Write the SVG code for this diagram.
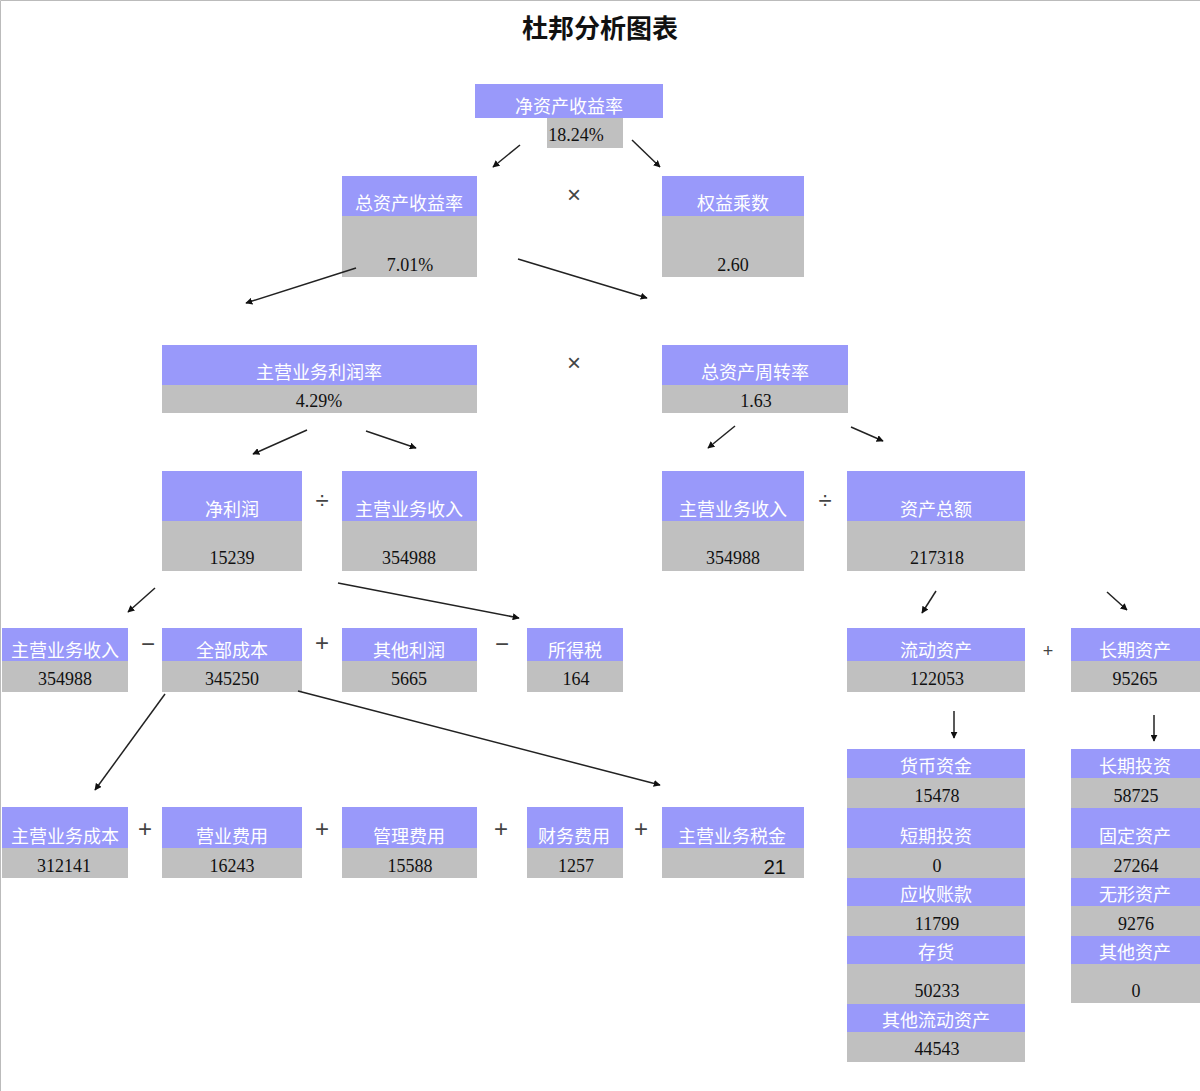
<svg xmlns="http://www.w3.org/2000/svg" width="1200" height="1091" viewBox="0 0 1200 1091">
<defs>
<style>
.p{fill:#9999fa}.g{fill:#c0c0c0}
.l{font-family:"Noto Sans CJK SC",sans-serif;font-size:18px;fill:#fff;text-anchor:middle}
.v{font-family:"Liberation Serif",serif;font-size:18px;fill:#111;text-anchor:middle}
.o{font-family:"Liberation Sans",sans-serif;font-size:24px;fill:#444;text-anchor:middle}
.c line{stroke:#222;stroke-width:1.5;marker-end:url(#a)}
</style>
<marker id="a" viewBox="0 0 10 10" refX="9" refY="5" markerWidth="7" markerHeight="7" orient="auto" markerUnits="userSpaceOnUse"><path d="M0,0L10,5L0,10z" fill="#111"/></marker>
</defs>
<rect width="1200" height="1091" fill="#fff"/>
<path d="M0.5,1091V0.5H1200" fill="none" stroke="#bbb"/>
<text x="600" y="38" font-family="Noto Sans CJK SC,sans-serif" font-size="26" font-weight="bold" text-anchor="middle" fill="#111">杜邦分析图表</text>

<g id="roe"><rect class="p" x="475" y="84" width="188" height="34"/><rect class="g" x="547" y="118" width="76" height="30"/><text class="l" x="569" y="113">净资产收益率</text><text class="v" x="576" y="141">18.24%</text></g>
<g id="roa"><rect class="p" x="342" y="176" width="135" height="40"/><rect class="g" x="342" y="216" width="135" height="61"/><text class="l" x="409" y="210">总资产收益率</text><text class="v" x="410" y="271">7.01%</text></g>
<g id="em"><rect class="p" x="662" y="176" width="142" height="40"/><rect class="g" x="662" y="216" width="142" height="61"/><text class="l" x="733" y="210">权益乘数</text><text class="v" x="733" y="271">2.60</text></g>
<g id="pm"><rect class="p" x="162" y="345" width="315" height="40"/><rect class="g" x="162" y="385" width="315" height="28"/><text class="l" x="319" y="379">主营业务利润率</text><text class="v" x="319" y="407">4.29%</text></g>
<g id="at"><rect class="p" x="662" y="345" width="186" height="40"/><rect class="g" x="662" y="385" width="186" height="28"/><text class="l" x="755" y="379">总资产周转率</text><text class="v" x="756" y="407">1.63</text></g>

<g id="np"><rect class="p" x="162" y="471" width="140" height="50"/><rect class="g" x="162" y="521" width="140" height="50"/><text class="l" x="232" y="516">净利润</text><text class="v" x="232" y="564">15239</text></g>
<g id="rev1"><rect class="p" x="342" y="471" width="135" height="50"/><rect class="g" x="342" y="521" width="135" height="50"/><text class="l" x="409" y="516">主营业务收入</text><text class="v" x="409" y="564">354988</text></g>
<g id="rev2"><rect class="p" x="662" y="471" width="142" height="50"/><rect class="g" x="662" y="521" width="142" height="50"/><text class="l" x="733" y="516">主营业务收入</text><text class="v" x="733" y="564">354988</text></g>
<g id="ta"><rect class="p" x="847" y="471" width="178" height="50"/><rect class="g" x="847" y="521" width="178" height="50"/><text class="l" x="936" y="516">资产总额</text><text class="v" x="937" y="564">217318</text></g>

<g id="rev3"><rect class="p" x="2" y="628" width="126" height="33"/><rect class="g" x="2" y="661" width="126" height="31"/><text class="l" x="65" y="657">主营业务收入</text><text class="v" x="65" y="685">354988</text></g>
<g id="tc"><rect class="p" x="162" y="628" width="140" height="33"/><rect class="g" x="162" y="661" width="140" height="31"/><text class="l" x="232" y="657">全部成本</text><text class="v" x="232" y="685">345250</text></g>
<g id="op"><rect class="p" x="342" y="628" width="135" height="33"/><rect class="g" x="342" y="661" width="135" height="31"/><text class="l" x="409" y="657">其他利润</text><text class="v" x="409" y="685">5665</text></g>
<g id="tax"><rect class="p" x="527" y="628" width="96" height="33"/><rect class="g" x="527" y="661" width="96" height="31"/><text class="l" x="575" y="657">所得税</text><text class="v" x="576" y="685">164</text></g>
<g id="ca"><rect class="p" x="847" y="628" width="178" height="33"/><rect class="g" x="847" y="661" width="178" height="31"/><text class="l" x="936" y="657">流动资产</text><text class="v" x="937" y="685">122053</text></g>
<g id="la"><rect class="p" x="1071" y="628" width="129" height="33"/><rect class="g" x="1071" y="661" width="129" height="31"/><text class="l" x="1135" y="657">长期资产</text><text class="v" x="1135" y="685">95265</text></g>

<g id="cogs"><rect class="p" x="2" y="807" width="126" height="41"/><rect class="g" x="2" y="848" width="126" height="30"/><text class="l" x="65" y="843">主营业务成本</text><text class="v" x="64" y="872">312141</text></g>
<g id="se"><rect class="p" x="162" y="807" width="140" height="41"/><rect class="g" x="162" y="848" width="140" height="30"/><text class="l" x="232" y="843">营业费用</text><text class="v" x="232" y="872">16243</text></g>
<g id="ae"><rect class="p" x="342" y="807" width="135" height="41"/><rect class="g" x="342" y="848" width="135" height="30"/><text class="l" x="409" y="843">管理费用</text><text class="v" x="410" y="872">15588</text></g>
<g id="fe"><rect class="p" x="527" y="807" width="96" height="41"/><rect class="g" x="527" y="848" width="96" height="30"/><text class="l" x="574" y="843">财务费用</text><text class="v" x="576" y="872">1257</text></g>
<g id="btx"><rect class="p" x="662" y="807" width="142" height="41"/><rect class="g" x="662" y="848" width="142" height="30"/><text class="l" x="732" y="843">主营业务税金</text><text x="786" y="874" font-family="Liberation Sans,sans-serif" font-size="20" fill="#111" text-anchor="end">21</text></g>

<g id="cash"><rect class="p" x="847" y="749" width="178" height="29"/><rect class="g" x="847" y="778" width="178" height="30"/><text class="l" x="936" y="773">货币资金</text><text class="v" x="937" y="802">15478</text></g>
<g id="sti"><rect class="p" x="847" y="808" width="178" height="40"/><rect class="g" x="847" y="848" width="178" height="30"/><text class="l" x="936" y="843">短期投资</text><text class="v" x="937" y="872">0</text></g>
<g id="ar"><rect class="p" x="847" y="878" width="178" height="28"/><rect class="g" x="847" y="906" width="178" height="30"/><text class="l" x="936" y="901">应收账款</text><text class="v" x="937" y="930">11799</text></g>
<g id="inv"><rect class="p" x="847" y="936" width="178" height="28"/><rect class="g" x="847" y="964" width="178" height="40"/><text class="l" x="936" y="959">存货</text><text class="v" x="937" y="997">50233</text></g>
<g id="oca"><rect class="p" x="847" y="1004" width="178" height="28"/><rect class="g" x="847" y="1032" width="178" height="30"/><text class="l" x="936" y="1027">其他流动资产</text><text class="v" x="937" y="1055">44543</text></g>

<g id="lti"><rect class="p" x="1071" y="749" width="129" height="29"/><rect class="g" x="1071" y="778" width="129" height="30"/><text class="l" x="1135" y="773">长期投资</text><text class="v" x="1136" y="802">58725</text></g>
<g id="fa"><rect class="p" x="1071" y="808" width="129" height="40"/><rect class="g" x="1071" y="848" width="129" height="30"/><text class="l" x="1135" y="843">固定资产</text><text class="v" x="1136" y="872">27264</text></g>
<g id="ia"><rect class="p" x="1071" y="878" width="129" height="28"/><rect class="g" x="1071" y="906" width="129" height="30"/><text class="l" x="1135" y="901">无形资产</text><text class="v" x="1136" y="930">9276</text></g>
<g id="oa"><rect class="p" x="1071" y="936" width="129" height="28"/><rect class="g" x="1071" y="964" width="129" height="39"/><text class="l" x="1135" y="959">其他资产</text><text class="v" x="1136" y="997">0</text></g>

<g id="ops">
<text class="o" x="574" y="203">×</text><text class="o" x="574" y="371">×</text>
<text class="o" x="322" y="509">÷</text><text class="o" x="825" y="509">÷</text>
<text class="o" x="148" y="652">−</text><text class="o" x="322" y="651">+</text><text class="o" x="502" y="652">−</text><text class="o" x="1048" y="657" style="font-size:18px">+</text>
<text class="o" x="145" y="837">+</text><text class="o" x="322" y="837">+</text><text class="o" x="501" y="837">+</text><text class="o" x="641" y="837">+</text>
</g>

<g id="connectors" class="c">
<line x1="520" y1="145" x2="493" y2="167"/>
<line x1="632" y1="140" x2="660" y2="167"/>
<line x1="356" y1="268" x2="246" y2="303"/>
<line x1="518" y1="259" x2="647" y2="298"/>
<line x1="307" y1="430" x2="253" y2="454"/>
<line x1="366" y1="431" x2="416" y2="448"/>
<line x1="735" y1="426" x2="708" y2="448"/>
<line x1="851" y1="427" x2="883" y2="441"/>
<line x1="155" y1="588" x2="128" y2="612"/>
<line x1="338" y1="583" x2="519" y2="618"/>
<line x1="165" y1="694" x2="95" y2="790"/>
<line x1="298" y1="691" x2="660" y2="785"/>
<line x1="936" y1="591" x2="922" y2="613"/>
<line x1="1107" y1="592" x2="1127" y2="610"/>
<line x1="954" y1="711" x2="954" y2="738"/>
<line x1="1154" y1="715" x2="1154" y2="741"/>
</g>
</svg>
